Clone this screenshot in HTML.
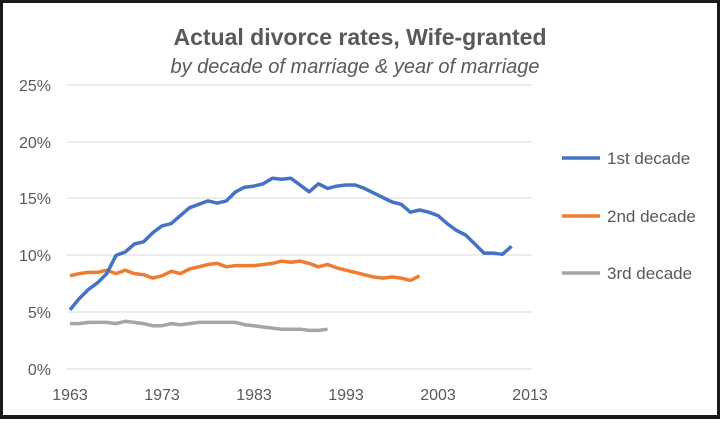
<!DOCTYPE html><html><head><style>body{margin:0}</style></head><body>
<svg width="720" height="419" xmlns="http://www.w3.org/2000/svg" font-family="Liberation Sans, sans-serif">
<rect x="0" y="0" width="720" height="419" fill="#1a1a1a"/>
<rect x="3" y="3" width="714" height="412" fill="#fff"/>
<text x="360" y="45" text-anchor="middle" font-size="23" font-weight="bold" fill="#595959">Actual divorce rates, Wife-granted</text>
<text x="355" y="73" text-anchor="middle" font-size="20" font-style="italic" fill="#595959">by decade of marriage &amp; year of marriage</text>
<g stroke="#d9d9d9" stroke-width="1">
<line x1="67" x2="532" y1="85" y2="85"/><line x1="67" x2="532" y1="142" y2="142"/><line x1="67" x2="532" y1="198" y2="198"/><line x1="67" x2="532" y1="255" y2="255"/><line x1="67" x2="532" y1="312" y2="312"/><line x1="67" x2="532" y1="369" y2="369"/></g>
<g font-size="16" fill="#595959" text-anchor="end">
<text x="51" y="91">25%</text><text x="51" y="148">20%</text><text x="51" y="204">15%</text><text x="51" y="261">10%</text><text x="51" y="318">5%</text><text x="51" y="375">0%</text></g>
<g font-size="16" fill="#595959" text-anchor="middle">
<text x="70" y="400">1963</text><text x="162" y="400">1973</text><text x="254" y="400">1983</text><text x="346" y="400">1993</text><text x="438" y="400">2003</text><text x="530" y="400">2013</text></g>
<g id="lines" fill="none" stroke-width="3.5" stroke-linejoin="round"></g>
<line x1="562" x2="600" y1="158" y2="158" stroke="#4472c4" stroke-width="3.5"/>
<line x1="562" x2="600" y1="216" y2="216" stroke="#ed7d31" stroke-width="3.5"/>
<line x1="562" x2="600" y1="273" y2="273" stroke="#a5a5a5" stroke-width="3.5"/>
<g font-size="17" fill="#595959"><text x="607" y="164">1st decade</text><text x="607" y="222">2nd decade</text><text x="607" y="279">3rd decade</text></g>
</svg>
<script>
var S={"#a5a5a5":[4.0,4.0,4.1,4.1,4.1,4.0,4.2,4.1,4.0,3.8,3.8,4.0,3.9,4.0,4.1,4.1,4.1,4.1,4.1,3.9,3.8,3.7,3.6,3.5,3.5,3.5,3.4,3.4,3.5],
"#ed7d31":[8.2,8.4,8.5,8.5,8.7,8.4,8.7,8.4,8.3,8.0,8.2,8.6,8.4,8.8,9.0,9.2,9.3,9.0,9.1,9.1,9.1,9.2,9.3,9.5,9.4,9.5,9.3,9.0,9.2,8.9,8.7,8.5,8.3,8.1,8.0,8.1,8.0,7.8,8.2],
"#4472c4":[5.2,6.2,7.0,7.6,8.4,10.0,10.3,11.0,11.2,12.0,12.6,12.8,13.5,14.2,14.5,14.8,14.6,14.8,15.6,16.0,16.1,16.3,16.8,16.7,16.8,16.2,15.6,16.3,15.9,16.1,16.2,16.2,15.9,15.5,15.1,14.7,14.5,13.8,14.0,13.8,13.5,12.8,12.2,11.8,11.0,10.2,10.2,10.1,10.8]};
var g=document.getElementById('lines');
for(var c in S){var p=S[c].map(function(v,i){return (70+i*9.2).toFixed(1)+','+(369-v*11.36).toFixed(1)}).join(' ');
var e=document.createElementNS('http://www.w3.org/2000/svg','polyline');e.setAttribute('points',p);e.setAttribute('stroke',c);g.appendChild(e);}
</script>
</body></html>
